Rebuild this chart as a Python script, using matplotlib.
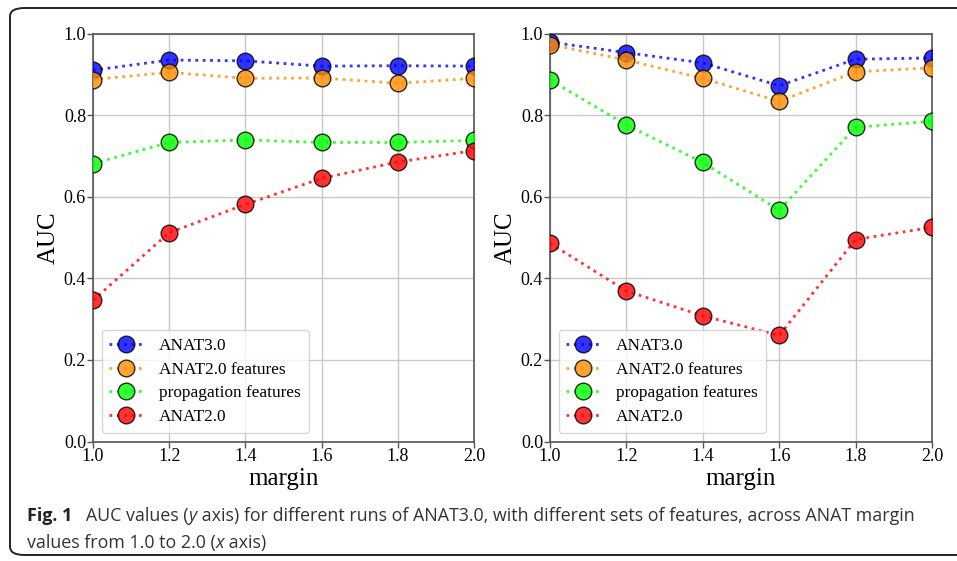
import matplotlib
matplotlib.use("Agg")
import matplotlib.pyplot as plt
from matplotlib.patches import FancyBboxPatch

margins = [1.0, 1.2, 1.4, 1.6, 1.8, 2.0]
series_names = ["ANAT3.0", "ANAT2.0 features", "propagation features", "ANAT2.0"]
series_colors = ["#0000ff", "darkorange", "lime", "red"]

left_anat3 = [0.910, 0.935, 0.933, 0.920, 0.921, 0.920]
left_anat2_feat = [0.887, 0.905, 0.890, 0.891, 0.878, 0.890]
left_prop = [0.681, 0.733, 0.739, 0.733, 0.733, 0.738]
left_anat2 = [0.346, 0.512, 0.581, 0.645, 0.685, 0.713]

right_anat3 = [0.979, 0.953, 0.928, 0.872, 0.937, 0.940]
right_anat2_feat = [0.973, 0.935, 0.890, 0.834, 0.906, 0.916]
right_prop = [0.886, 0.776, 0.684, 0.567, 0.770, 0.785]
right_anat2 = [0.486, 0.369, 0.308, 0.260, 0.495, 0.525]

yticks = [0.0, 0.2, 0.4, 0.6, 0.8, 1.0]
xticks = [1.0, 1.2, 1.4, 1.6, 1.8, 2.0]

W, H = 957, 561
fig = plt.figure(figsize=(W / 100, H / 100), dpi=100)

serif = ["Liberation Serif", "DejaVu Serif"]

def setup(ax, data):
    for vals, name, col in zip(data, series_names, series_colors):
        ax.plot(margins, vals, linestyle=":", linewidth=2, color=col, alpha=0.8,
                marker="o", markersize=12, markerfacecolor=col,
                markeredgecolor="black", markeredgewidth=1.0, label=name,
                zorder=3)
    ax.set_xlim(1.0, 2.0)
    ax.set_ylim(0.0, 1.0)
    ax.set_xticks(xticks)
    ax.set_yticks(yticks)
    ax.set_xticklabels([f"{v:.1f}" for v in xticks], fontfamily=serif, fontsize=13)
    ax.set_yticklabels([f"{v:.1f}" for v in yticks], fontfamily=serif, fontsize=13)
    ax.grid(True, color="#c8c8c8", linewidth=1.0)
    ax.set_axisbelow(True)
    for s in ax.spines.values():
        s.set_color("#555555")
        s.set_linewidth(1.2)
    ax.tick_params(length=4, width=1, color="#555555", pad=1)
    ax.set_xlabel("margin", fontfamily=serif, fontsize=18, labelpad=2)
    ax.set_ylabel("AUC", fontfamily=serif, fontsize=18, labelpad=2.5)
    ax.legend(loc="lower left", prop={"family": serif, "size": 12.4},
              handlelength=1.9, handletextpad=1.0, borderpad=0.45, labelspacing=0.45,
              framealpha=0.8, edgecolor="#cccccc", fancybox=True)

ax1 = fig.add_axes([93 / W, 1 - 441.5 / H, 381 / W, 408 / H])
setup(ax1, [left_anat3, left_anat2_feat, left_prop, left_anat2])
ax2 = fig.add_axes([550 / W, 1 - 441.5 / H, 382 / W, 408 / H])
setup(ax2, [right_anat3, right_anat2_feat, right_prop, right_anat2])

# rounded border box
box = FancyBboxPatch((10 / W, 1 - 555 / H), (W + 40) / W, (555 - 8) / H,
                     boxstyle="round,pad=0,rounding_size=0.015",
                     transform=fig.transFigure, fill=False, edgecolor="#222222",
                     linewidth=1.4, clip_on=False)
fig.patches.append(box)

# caption
cap_font = ["Open Sans", "DejaVu Sans"]
fig.canvas.draw()
renderer = fig.canvas.get_renderer()

def put_pieces(pieces, x_px, y_px):
    x = x_px
    for txt, style in pieces:
        kw = dict(fontfamily=cap_font, fontsize=12.85, color="#333333", va="baseline", ha="left")
        if style == "b":
            kw["fontweight"] = "bold"
            kw["color"] = "#222222"
        if style == "i":
            kw["fontstyle"] = "italic"
        t = fig.text(x / W, 1 - y_px / H, txt, **kw)
        bb = t.get_window_extent(renderer=renderer)
        x = bb.x1

line1 = [("Fig. 1", "b"), ("   AUC values (", ""), ("y", "i"),
         (" axis) for different runs of ANAT3.0, with different sets of features, across ANAT margin", "")]
line2 = [("values from 1.0 to 2.0 (", ""), ("x", "i"), (" axis)", "")]
put_pieces(line1, 27, 521)
put_pieces(line2, 27, 548)

fig.savefig("out.png", dpi=100)
